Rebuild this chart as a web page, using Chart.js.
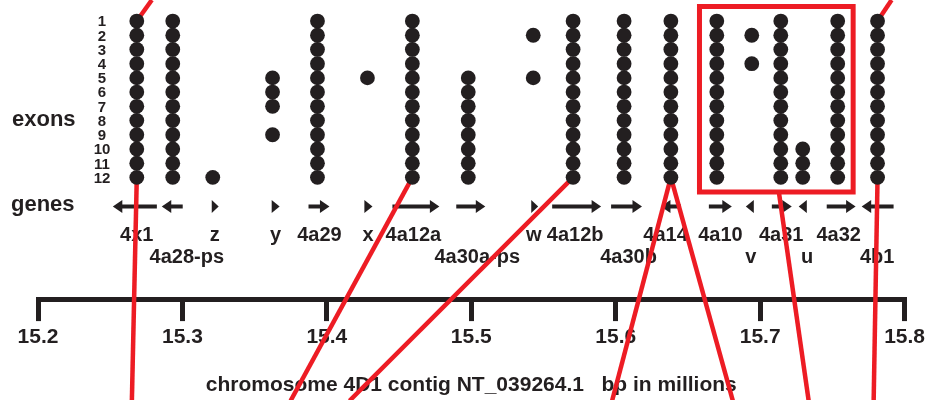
<!DOCTYPE html>
<html><head><meta charset="utf-8">
<script src="https://cdn.jsdelivr.net/npm/chart.js@4.4.1/dist/chart.umd.min.js"></script>
<style>html,body{margin:0;padding:0;background:#fff}#wrap{width:929px;height:400px;position:relative}</style>
</head><body><div id="wrap"><canvas id="c"></canvas></div>
<script>
// ---- axis (chromosome position, Mb) ----
const tickValues = [15.2, 15.3, 15.4, 15.5, 15.6, 15.7, 15.8];
const tickLabels = ['15.2', '15.3', '15.4', '15.5', '15.6', '15.7', '15.8'];
const axisTitle = 'chromosome 4D1 contig NT_039264.1   bp in millions';

// ---- exon rows ----
const exonNumbers = [1, 2, 3, 4, 5, 6, 7, 8, 9, 10, 11, 12];

// ---- exon columns (one per gene) ----
const columnNames = ['4x1', '4a28-ps', 'z', 'y', '4a29', 'x', '4a12a', '4a30a-ps', 'w', '4a12b', '4a30b', '4a14', '4a10', 'v', '4a31', 'u', '4a32', '4b1'];
const columnX = [15.2684, 15.2933, 15.3210, 15.3624, 15.3935, 15.4281, 15.4592, 15.4979, 15.5429, 15.5705, 15.6058, 15.6382, 15.6700, 15.6942, 15.7143, 15.7295, 15.7537, 15.7813];
const columnExons = [
  [1, 2, 3, 4, 5, 6, 7, 8, 9, 10, 11, 12],
  [1, 2, 3, 4, 5, 6, 7, 8, 9, 10, 11, 12],
  [12],
  [5, 6, 7, 9],
  [1, 2, 3, 4, 5, 6, 7, 8, 9, 10, 11, 12],
  [5],
  [1, 2, 3, 4, 5, 6, 7, 8, 9, 10, 11, 12],
  [5, 6, 7, 8, 9, 10, 11, 12],
  [2, 5],
  [1, 2, 3, 4, 5, 6, 7, 8, 9, 10, 11, 12],
  [1, 2, 3, 4, 5, 6, 7, 8, 9, 10, 11, 12],
  [1, 2, 3, 4, 5, 6, 7, 8, 9, 10, 11, 12],
  [1, 2, 3, 4, 5, 6, 7, 8, 9, 10, 11, 12],
  [2, 4],
  [1, 2, 3, 4, 5, 6, 7, 8, 9, 10, 11, 12],
  [10, 11, 12],
  [1, 2, 3, 4, 5, 6, 7, 8, 9, 10, 11, 12],
  [1, 2, 3, 4, 5, 6, 7, 8, 9, 10, 11, 12]
];

// ---- gene arrows (tail -> tip, Mb) and labels ----
const geneNames = ['4x1', '4a28-ps', 'z', 'y', '4a29', 'x', '4a12a', '4a30a-ps', 'w', '4a12b', '4a30b', '4a14', '4a10', 'v', '4a31', 'u', '4a32', '4b1'];
const geneTail = [15.2823, 15.3002, 15.3203, 15.3618, 15.3873, 15.4260, 15.4454, 15.4896, 15.5415, 15.5560, 15.5968, 15.6452, 15.6645, 15.6956, 15.7081, 15.7323, 15.7461, 15.7924];
const geneTip  = [15.2518, 15.2857, 15.3251, 15.3673, 15.4018, 15.4316, 15.4779, 15.5097, 15.5463, 15.5899, 15.6182, 15.6313, 15.6804, 15.6901, 15.7219, 15.7267, 15.7661, 15.7703];
const geneLabelX = [15.2684, 15.3030, 15.3224, 15.3645, 15.3949, 15.4285, 15.4599, 15.5041, 15.5432, 15.5719, 15.6089, 15.6345, 15.6725, 15.6935, 15.7146, 15.7326, 15.7544, 15.7810];
const geneLabelTier = [1, 2, 1, 1, 1, 1, 1, 2, 1, 1, 2, 1, 1, 2, 1, 2, 1, 2];

// ---- red links (x in Mb, y in exon-row units) ----
const linkStart = [[15.2788, -0.48], [15.2684, 12], [15.4592, 12], [15.5705, 12], [15.6382, 12], [15.6382, 12], [15.7129, 12.99], [15.7910, -0.48], [15.7813, 12]];
const linkEnd   = [[15.2684, 1],     [15.2650, 27.72], [15.3749, 27.72], [15.4157, 27.72], [15.5975, 27.72], [15.6811, 27.72], [15.7336, 27.72], [15.7813, 1], [15.7786, 27.72]];

// ---- highlighted box (x in Mb, y in rows) ----
const boxX = [15.6580, 15.7644];
const boxY = [-0.022, 13.022];

const INK = '#231f20';
const RED = '#ed1c24';
const FONT = '"Liberation Sans", Arial, Helvetica, sans-serif';
Chart.defaults.font.family = FONT;
Chart.defaults.color = INK;

const exonPoints = [];
columnX.forEach((x, i) => columnExons[i].forEach(r => exonPoints.push({x: x, y: r})));

const datasets = [{
  label: 'exons', data: exonPoints, pointRadius: 7.4, pointHoverRadius: 7.4,
  backgroundColor: INK, borderWidth: 0, pointBorderWidth: 0, showLine: false, order: 0, clip: false
}];
linkStart.forEach((s, i) => {
  datasets.push({
    label: 'link' + i, data: [{x: s[0], y: s[1]}, {x: linkEnd[i][0], y: linkEnd[i][1]}],
    showLine: true, pointRadius: 0, borderColor: RED, borderWidth: 4.5, clip: false, order: 1
  });
});
datasets.push({
  label: 'box', data: [
    {x: boxX[0], y: boxY[0]}, {x: boxX[1], y: boxY[0]}, {x: boxX[1], y: boxY[1]},
    {x: boxX[0], y: boxY[1]}, {x: boxX[0], y: boxY[0]}
  ],
  showLine: true, pointRadius: 0, borderColor: RED, borderWidth: 5, borderJoinStyle: 'miter',
  borderCapStyle: 'square', clip: false, order: 1
});

const annotations = {
  id: 'annotations',
  beforeDatasetsDraw(chart, args, opts) {
    const ctx = chart.ctx, xs = chart.scales.x, ys = chart.scales.y;
    ctx.save();
    ctx.fillStyle = INK; ctx.strokeStyle = INK;
    // exon numbers
    ctx.font = 'bold 15px ' + FONT;
    ctx.textAlign = 'center'; ctx.textBaseline = 'alphabetic';
    exonNumbers.forEach(n => ctx.fillText(String(n), opts.numberX, ys.getPixelForValue(n) + 5.4));
    // side titles
    ctx.font = 'bold 22px ' + FONT;
    ctx.textAlign = 'left';
    ctx.fillText('exons', 12, 126);
    ctx.fillText('genes', 11, 211);
    // gene arrows
    const gy = ys.getPixelForValue(opts.geneRow);
    geneNames.forEach((g, i) => {
      const t = xs.getPixelForValue(geneTail[i]), p = xs.getPixelForValue(geneTip[i]);
      const len = Math.abs(p - t), dir = Math.sign(p - t);
      const head = Math.min(9.5, len);
      if (len > head + 0.5) {
        ctx.lineWidth = 4; ctx.lineCap = 'butt';
        ctx.beginPath(); ctx.moveTo(t, gy); ctx.lineTo(p - dir * head * 0.8, gy); ctx.stroke();
      }
      ctx.beginPath();
      ctx.moveTo(p, gy);
      ctx.lineTo(p - dir * head, gy - 6.4);
      ctx.lineTo(p - dir * head, gy + 6.4);
      ctx.closePath(); ctx.fill();
    });
    // gene labels
    ctx.font = 'bold 20px ' + FONT;
    ctx.textAlign = 'center'; ctx.textBaseline = 'alphabetic';
    geneNames.forEach((g, i) => {
      const off = geneLabelTier[i] === 1 ? 34.5 : 57;
      ctx.fillText(g, xs.getPixelForValue(geneLabelX[i]), gy + off);
    });
    ctx.restore();
  }
};

new Chart(document.getElementById('c'), {
  type: 'scatter',
  data: {datasets},
  options: {
    responsive: true, maintainAspectRatio: false, animation: false, events: [],
    devicePixelRatio: 1,
    layout: {autoPadding: false, padding: {left: 38, right: 23, top: 0, bottom: 0}},
    plugins: {legend: {display: false}, tooltip: {enabled: false},
      annotations: {numberX: 102, geneRow: 14.05}},
    scales: {
      x: {
        type: 'linear', position: 'bottom', min: 15.2, max: 15.8,
        afterBuildTicks: (s) => { s.ticks = tickValues.map(v => ({value: v})); },
        ticks: {callback: (v, i) => tickLabels[i], font: {size: 21, weight: 'bold'}, color: INK,
          padding: 4, maxRotation: 0, autoSkip: false},
        grid: {drawOnChartArea: false, drawTicks: true, tickLength: 22, tickWidth: 5, lineWidth: 5, tickColor: INK, color: INK},
        border: {display: true, width: 5, color: INK},
        title: {display: true, text: axisTitle, font: {size: 21, weight: 'bold'}, color: INK,
          padding: {top: 18.5, bottom: 2}}
      },
      y: {type: 'linear', display: false, reverse: true, min: -0.4808, max: 20.567}
    }
  },
  plugins: [annotations]
});
</script>
</body></html>
